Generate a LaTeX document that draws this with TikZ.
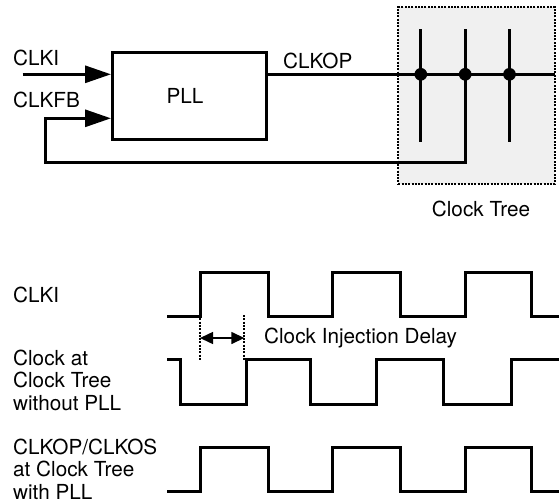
\documentclass[tikz,border=0pt]{standalone}
\usepackage{fontspec}
\setmainfont{TeX Gyre Heros}
\usetikzlibrary{arrows.meta}
\begin{document}
\begin{tikzpicture}[x=1pt,y=-1pt,
  every node/.style={font=\fontsize{20.7}{22.2}\selectfont, inner sep=0pt},
  wire/.style={line width=3pt, line join=miter},
  bigarrow/.style={-{Triangle[length=26pt,width=17pt]}},
  wave/.style={line width=3pt, line join=miter},
  dotnode/.style={circle, fill=black, minimum size=12.7pt, inner sep=0pt},
  treebox/.style={fill=black!6, draw=black, line width=2pt, dash pattern=on 2pt off 1.3pt},
  pllbox/.style={draw, line width=3pt, minimum width=154pt, minimum height=86.5pt},
  delayline/.style={line width=2pt, dash pattern=on 2pt off 1.3pt},
  delayarrow/.style={line width=1.5pt, {Triangle[length=13pt,width=12pt]}-{Triangle[length=13pt,width=12pt]}}
]
\useasboundingbox (0,0) rectangle (559,503);

% Clock tree frame
\node[treebox, minimum width=156.7pt, minimum height=176.7pt] (tree) at (476.65,95.65) {};
\node[anchor=base] (ltree) at (481,216) {Clock Tree};

% PLL
\node[pllbox] (pll) at (189.5,96.25) {PLL\hspace*{9pt}};

% labels top
\node[anchor=base west] (lclki) at (13,66) {CLKI};
\node[anchor=base west] (lclkfb) at (13,107) {CLKFB};
\node[anchor=base west] (lclkop) at (283,69) {CLKOP};

% coordinates
\coordinate (clkiin) at (22.7,74.3);
\coordinate (outR) at (555,74.3);
\coordinate (fb1) at (465.2,162.3);
\coordinate (fb2) at (45.7,162.3);
\coordinate (fbin) at (45.7,118.3);

% tree verticals
\draw[wire] (420.8,29.3) -- (420.8,141.7);
\draw[wire] (465.2,29.3) -- (465.2,74.3);
\draw[wire] (509.5,29.3) -- (509.5,141.7);

% CLKOP output
\draw[wire] (clkiin -| pll.east) -- (outR);

% dots
\node[dotnode] (d1) at (420.8,74.3) {};
\node[dotnode] (d2) at (465.2,74.3) {};
\node[dotnode] (d3) at (509.5,74.3) {};

% inputs
\draw[wire, bigarrow] (clkiin) -- (clkiin -| pll.west);
\draw[wire, bigarrow] (d2.center) -- (fb1) -- (fb2) -- (fbin) -- (fbin -| pll.west);

% timing labels
\node[anchor=base west] (tclki) at (13,302) {CLKI};
\node[anchor=base west, align=left] (tnopll) at (13,410) {Clock at\\Clock Tree\\without PLL};
\node[anchor=base west, align=left] (twpll) at (13,499) {CLKOP/CLKOS\\at Clock Tree\\with PLL};
\node[anchor=base west] (tdelay) at (264,343) {Clock Injection Delay};

% waveforms
\draw[wave] (167,316.5) -- (200,316.5) -- (200,272.5) -- (268,272.5) -- (268,316.5)
  -- (332.3,316.5) -- (332.3,272.5) -- (400,272.5) -- (400,316.5)
  -- (465,316.5) -- (465,272.5) -- (531.7,272.5) -- (531.7,316.5) -- (559,316.5);
\draw[wave] (167,359.3) -- (180,359.3) -- (180,404.3) -- (246,404.3) -- (246,359.3)
  -- (310.7,359.3) -- (310.7,404.3) -- (376.7,404.3) -- (376.7,359.3)
  -- (443.3,359.3) -- (443.3,404.3) -- (511.7,404.3) -- (511.7,359.3) -- (559,359.3);
\draw[wave] (167,491.7) -- (200,491.7) -- (200,447.7) -- (268,447.7) -- (268,491.7)
  -- (332.3,491.7) -- (332.3,447.7) -- (400,447.7) -- (400,491.7)
  -- (465,491.7) -- (465,447.7) -- (531.7,447.7) -- (531.7,491.7) -- (559,491.7);

% delay markers
\coordinate (da) at (200,338);
\coordinate (db) at (244.3,338);
\draw[delayline] (200,315) -- (200,360);
\draw[delayline] (244.3,315) -- (244.3,360);
\draw[delayarrow] (da) -- (db);
\end{tikzpicture}
\end{document}
